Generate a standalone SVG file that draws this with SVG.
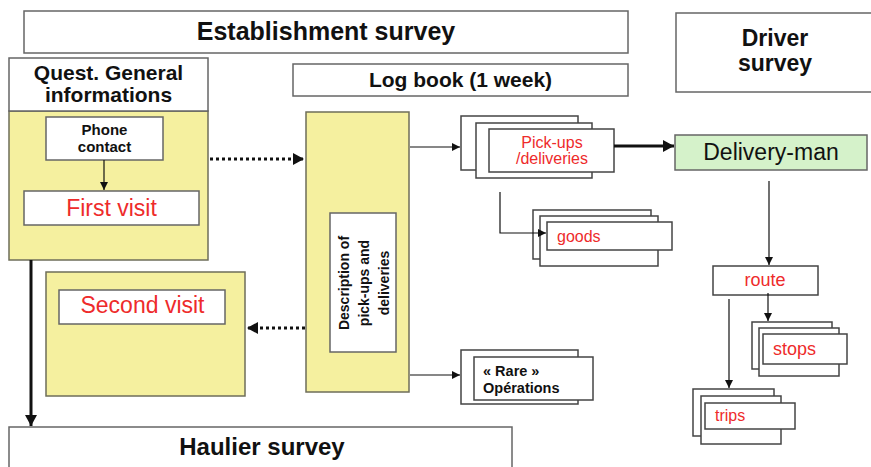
<svg xmlns="http://www.w3.org/2000/svg" width="871" height="467" viewBox="0 0 871 467">
<style>
.box{fill:#fff;stroke:#666;stroke-width:1.5}
.yel{fill:#f5f09f;stroke:#6e6e5a;stroke-width:1.5}
.stk{fill:#fff;stroke:#444;stroke-width:1.5}
.title{font-family:"Liberation Sans",Arial,sans-serif;font-weight:bold;fill:#111;text-anchor:middle}
.lbl{font-family:"Liberation Sans",Arial,sans-serif;fill:#111}
.red{font-family:"Liberation Sans",Arial,sans-serif;fill:#ee2b2b}
.ln{stroke:#111;stroke-width:1.2;fill:none}
.thk{stroke:#111;stroke-width:3;fill:none}
.dot{stroke:#111;stroke-width:3;stroke-dasharray:3 3;fill:none}
</style>
<defs>
<marker id="a" markerUnits="userSpaceOnUse" markerWidth="10" markerHeight="10" refX="8" refY="4" orient="auto"><path d="M0,0 L8,4 L0,8 z" fill="#111"/></marker>
<marker id="b" markerUnits="userSpaceOnUse" markerWidth="14" markerHeight="14" refX="11" refY="6" orient="auto"><path d="M0,0 L11,6 L0,12 z" fill="#111"/></marker>
</defs>

<g id="establishment">
<rect class="box" x="24" y="11" width="604" height="42"/>
<text class="title" x="326" y="40" font-size="25">Establishment survey</text>
</g>

<g id="quest">
<rect class="yel" x="9" y="111" width="199" height="149"/>
<rect class="box" x="9" y="58" width="199" height="53"/>
<text class="title" x="108.5" y="80" font-size="21">Quest. General</text>
<text class="title" x="108.5" y="102" font-size="21">informations</text>
</g>

<g id="phone">
<rect class="box" x="46" y="117" width="117" height="43"/>
<text class="title" x="104.5" y="135" font-size="15">Phone</text>
<text class="title" x="104.5" y="152" font-size="15">contact</text>
</g>

<g id="first-visit">
<rect class="box" x="24" y="191" width="175" height="34"/>
<text class="red" x="111.5" y="216" font-size="23" text-anchor="middle">First visit</text>
</g>

<g id="second">
<rect class="yel" x="46" y="272" width="199" height="124"/>
<rect class="box" x="59" y="290" width="166" height="34"/>
<text class="red" x="142.5" y="313" font-size="23" text-anchor="middle">Second visit</text>
</g>

<g id="logbook">
<rect class="box" x="293" y="64" width="335" height="32"/>
<text class="title" x="460.5" y="87" font-size="21">Log book (1 week)</text>
</g>

<g id="logbook-yellow">
<rect class="yel" x="306" y="112" width="103" height="280"/>
</g>

<g id="description">
<rect class="box" x="330" y="213" width="66" height="139"/>
<g transform="translate(363,283) rotate(-90)">
<text class="title" x="0" y="-14" font-size="14">Description of</text>
<text class="title" x="0" y="6" font-size="14">pick-ups and</text>
<text class="title" x="0" y="26" font-size="14">deliveries</text>
</g>
</g>

<g id="pickups">
<rect class="stk" x="461" y="116" width="117" height="54"/>
<rect class="stk" x="476" y="123" width="116" height="55"/>
<rect class="stk" x="489" y="129" width="125" height="43"/>
<text class="red" x="552" y="148" font-size="16" text-anchor="middle">Pick-ups</text>
<text class="red" x="552" y="164" font-size="16" text-anchor="middle">/deliveries</text>
</g>

<g id="goods">
<rect class="stk" x="533" y="210" width="118" height="49"/>
<rect class="stk" x="540" y="216" width="118" height="50"/>
<rect class="stk" x="547" y="222" width="125" height="28"/>
<text class="red" x="557" y="242" font-size="16">goods</text>
</g>

<g id="rare">
<rect class="stk" x="461" y="350" width="117" height="54"/>
<rect class="stk" x="474" y="357" width="119" height="43"/>
<text class="lbl" x="483" y="376" font-size="14.5" font-weight="bold">« Rare »</text>
<text class="lbl" x="483" y="393" font-size="14.5" font-weight="bold">Opérations</text>
</g>

<g id="driver">
<rect class="box" x="676" y="13" width="200" height="79"/>
<text class="title" x="775" y="46" font-size="23">Driver</text>
<text class="title" x="775" y="71" font-size="23">survey</text>
</g>

<g id="delivery-man">
<rect x="675" y="135" width="192" height="35" fill="#d5f2ca" stroke="#666" stroke-width="1.5"/>
<text class="lbl" x="771" y="160" font-size="23" text-anchor="middle">Delivery-man</text>
</g>

<g id="route">
<rect class="stk" x="713" y="266" width="105" height="29"/>
<text class="red" x="765" y="286" font-size="18" text-anchor="middle">route</text>
</g>

<g id="stops">
<rect class="stk" x="752" y="322" width="80" height="47"/>
<rect class="stk" x="759" y="328" width="80" height="48"/>
<rect class="stk" x="763" y="334" width="84" height="30"/>
<text class="red" x="773" y="355" font-size="18">stops</text>
</g>

<g id="trips">
<rect class="stk" x="693" y="389" width="81" height="47"/>
<rect class="stk" x="701" y="396" width="80" height="48"/>
<rect class="stk" x="705" y="403" width="90" height="26"/>
<text class="red" x="715" y="421" font-size="16">trips</text>
</g>

<g id="haulier">
<rect class="box" x="9" y="427" width="503" height="50"/>
<text class="title" x="262" y="455" font-size="24">Haulier survey</text>
</g>

<g id="connectors">
<line class="ln" x1="104" y1="160" x2="104" y2="190" marker-end="url(#a)"/>
<line class="dot" x1="210" y1="159" x2="304" y2="159" marker-end="url(#b)"/>
<line class="dot" x1="305" y1="328" x2="247" y2="328" marker-end="url(#b)"/>
<line class="thk" x1="31" y1="260" x2="31" y2="426" marker-end="url(#b)"/>
<line class="ln" x1="410" y1="147" x2="460" y2="147" marker-end="url(#a)"/>
<line class="thk" x1="614" y1="146" x2="674" y2="146" marker-end="url(#b)"/>
<polyline class="ln" points="500,192 500,233 546,233" marker-end="url(#a)"/>
<line class="ln" x1="410" y1="375" x2="460" y2="375" marker-end="url(#a)"/>
<line class="ln" x1="769" y1="181" x2="769" y2="265" marker-end="url(#a)"/>
<line class="ln" x1="768" y1="293" x2="768" y2="321" marker-end="url(#a)"/>
<line class="ln" x1="729" y1="299" x2="729" y2="388" marker-end="url(#a)"/>
</g>
</svg>
